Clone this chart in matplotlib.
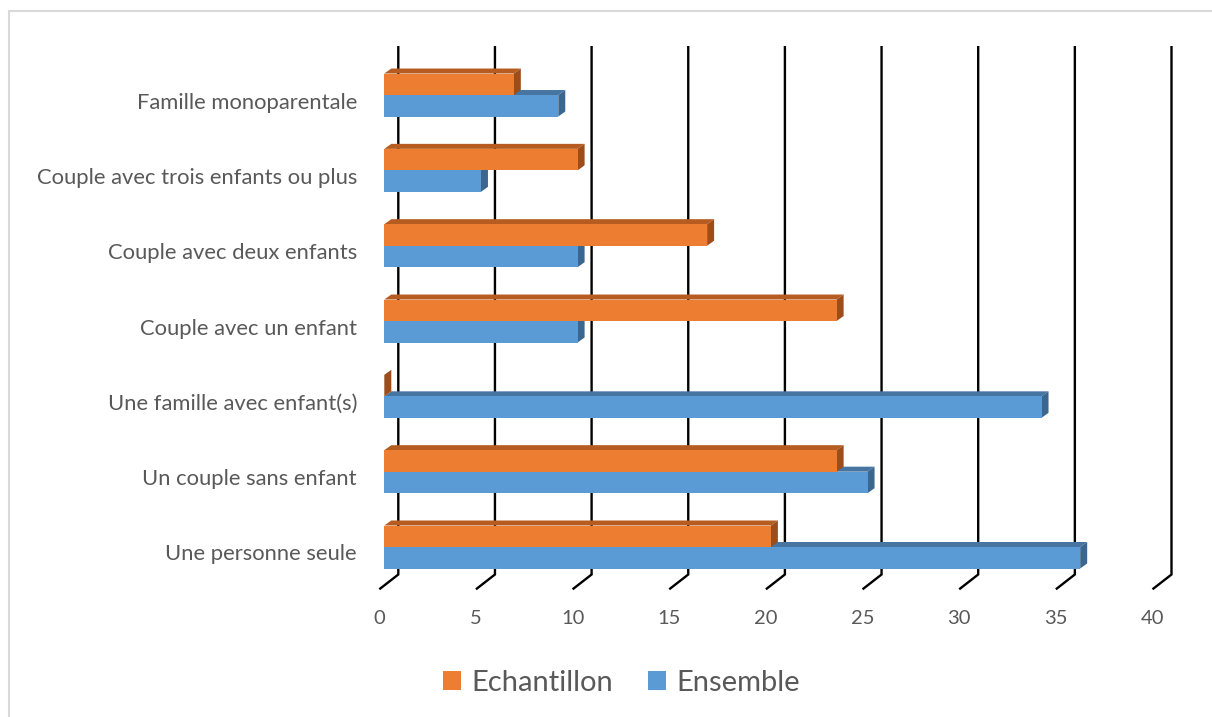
import matplotlib
matplotlib.use("Agg")
import matplotlib.pyplot as plt
from matplotlib.patches import Polygon, Rectangle, Patch

# ---- data -------------------------------------------------------------
categories = [
    "Une personne seule",
    "Un couple sans enfant",
    "Une famille avec enfant(s)",
    "Couple avec un enfant",
    "Couple avec deux enfants",
    "Couple avec trois enfants ou plus",
    "Famille monoparentale",
]
echantillon = [20, 23.4, 0, 23.4, 16.7, 10, 6.7]
ensemble = [36, 25, 34, 10, 10, 5, 9]
x_ticks = [0, 5, 10, 15, 20, 25, 30, 35, 40]
series_names = ["Echantillon", "Ensemble"]

# ---- style ------------------------------------------------------------
plt.rcParams['font.family'] = ['Lato', 'DejaVu Sans']
TEXT = "#595959"
ORANGE = ("#ED7D31", "#B65C20", "#9C4D19")   # front, top, side
BLUE = ("#5B9BD5", "#4775A2", "#3B668F")

W, H = 1212, 717
fig = plt.figure(figsize=(W / 100, H / 100), dpi=100)

# plot frame (pixel geometry of the bar plane)
left_px, right_px, top_px, bottom_px = 384.3, 1157.5, 40, 600
row0_px, row_step_px = 547, 75.33
ax = fig.add_axes([left_px / W, 1 - bottom_px / H,
                   (right_px - left_px) / W, (bottom_px - top_px) / H])
ax.set_xlim(0, 40)
ax.set_ylim((row0_px - bottom_px) / row_step_px, (row0_px - top_px) / row_step_px)
ax.axis('off')

ux = 40 / (right_px - left_px)   # data units per pixel (x)
uy = 1 / row_step_px             # data units per pixel (y)

bar_h = 21.5 * uy
depth_dx, depth_dy = 7 * ux, 5 * uy

# 3D gridlines: short floor segment, then vertical line on the back wall
y_floor_front = (row0_px - 589.3) / row_step_px
y_floor_back = (row0_px - 574.5) / row_step_px
y_wall_top = (row0_px - 46) / row_step_px
for v in x_ticks:
    ax.plot([v - 5 * ux, v + 14 * ux, v + 14 * ux],
            [y_floor_front, y_floor_back, y_wall_top],
            color="black", lw=1.7, clip_on=False, zorder=1,
            solid_joinstyle='miter', solid_capstyle='butt')
    ax.text(v - 5 * ux, (row0_px - 619) / row_step_px, str(v),
            ha='center', va='center', fontsize=14.5, color=TEXT)


def bar3d(y0, value, colors, z):
    front, top, side = colors
    y1 = y0 + bar_h
    ax.add_patch(Polygon([(0, y1), (value, y1), (value + depth_dx, y1 + depth_dy),
                          (depth_dx, y1 + depth_dy)],
                         closed=True, fc=top, ec='none', zorder=z, clip_on=False))
    ax.add_patch(Polygon([(value, y0), (value + depth_dx, y0 + depth_dy),
                          (value + depth_dx, y1 + depth_dy), (value, y1)],
                         closed=True, fc=side, ec='none', zorder=z, clip_on=False))
    ax.barh(y0 + bar_h / 2, value, height=bar_h, left=0, color=front,
            edgecolor='none', zorder=z + 0.5)


for i, (e, s) in enumerate(zip(echantillon, ensemble)):
    bar3d(i - bar_h, s, BLUE, 2 + i * 0.01)
    bar3d(i, e, ORANGE, 3 + i * 0.01)
    ax.text(-27.3 * ux, i - 7.5 * uy, categories[i], ha='right', va='center',
            fontsize=15.8, color=TEXT, clip_on=False)

# legend
handles = [Patch(facecolor=ORANGE[0], edgecolor='none'),
           Patch(facecolor=BLUE[0], edgecolor='none')]
leg = fig.legend(handles, series_names, loc='center',
                 bbox_to_anchor=(621.5 / W, 1 - 683 / H), ncol=2, frameon=False,
                 fontsize=21, handlelength=0.62, handleheight=0.62,
                 handletextpad=0.34, columnspacing=1.2, borderpad=0)
for t in leg.get_texts():
    t.set_color(TEXT)

# chart area outline
fig.add_artist(Rectangle((8.5 / W, -0.1), 1.2, (1 - 10.5 / H) + 0.1,
                         transform=fig.transFigure, fill=False,
                         edgecolor="#D9D9D9", lw=1.5))

fig.savefig("out.png", dpi=100, facecolor="white")
